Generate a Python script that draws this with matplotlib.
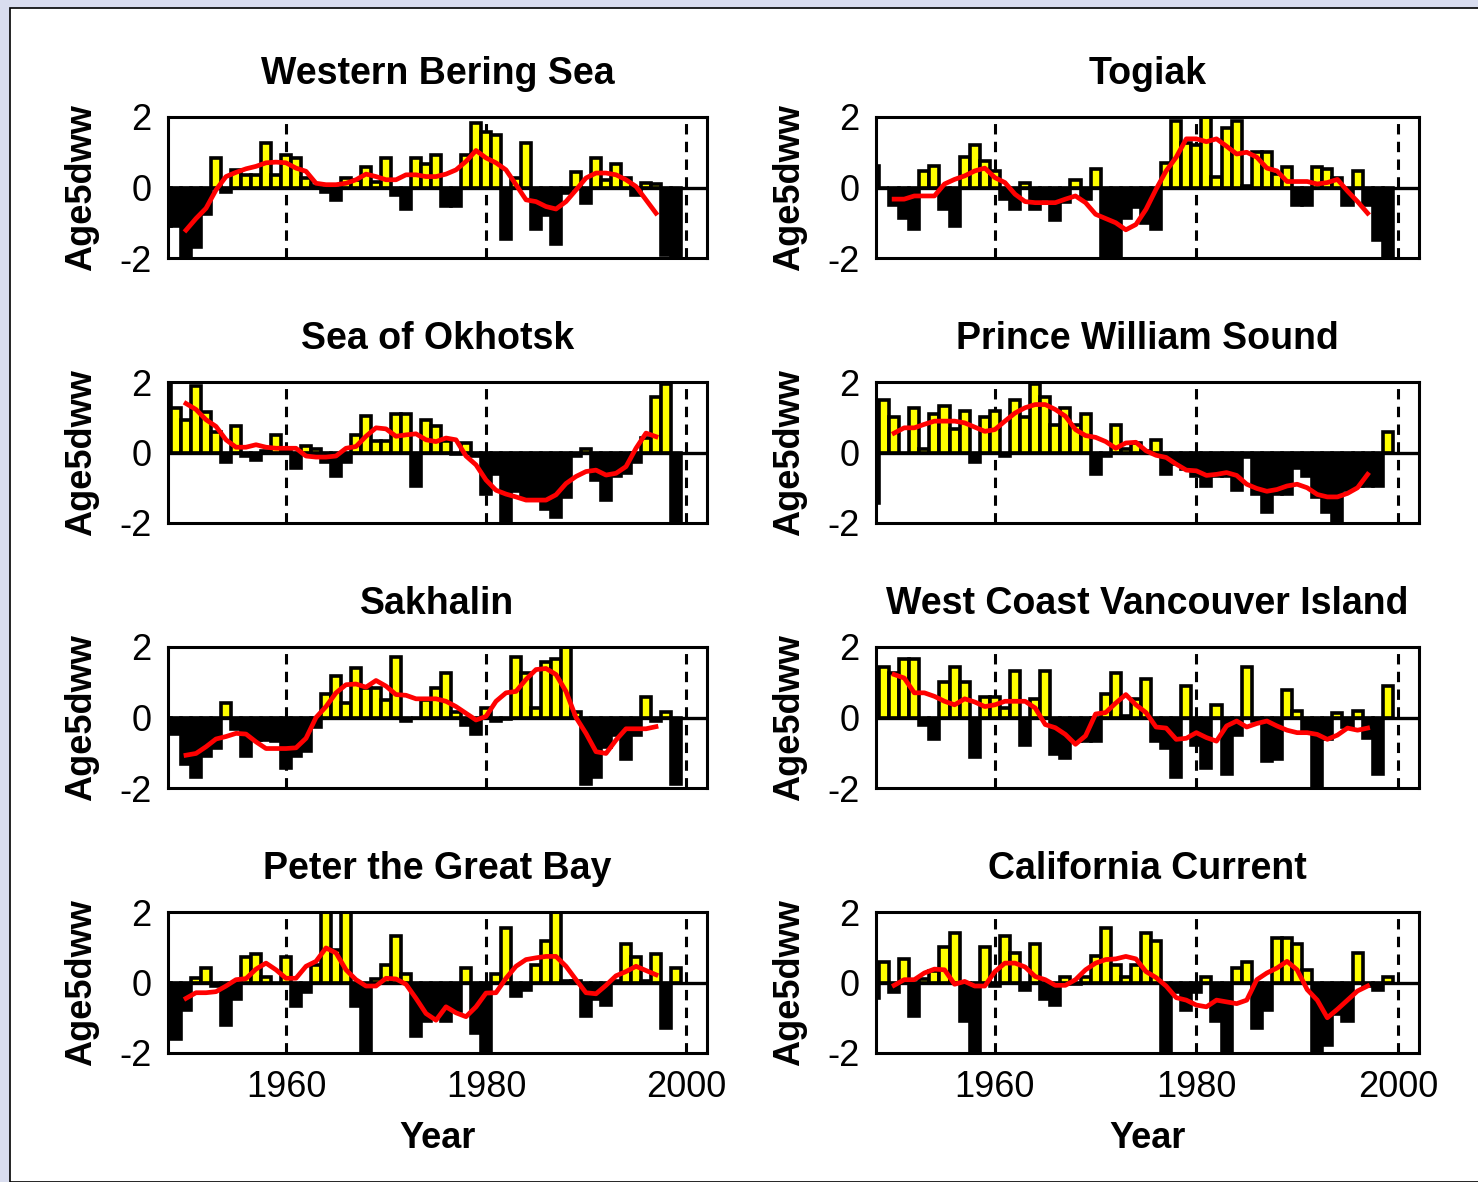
import matplotlib.pyplot as plt
import matplotlib.patches as mpatches
import numpy as np

years = np.arange(1948, 2000)
trend_years = np.arange(1950, 1998)

regions = ['Western Bering Sea', 'Togiak', 'Sea of Okhotsk', 'Prince William Sound',
           'Sakhalin', 'West Coast Vancouver Island', 'Peter the Great Bay', 'California Current']

# annual anomalies 1948-1999
western_bering = [-1.1, -1.1, -2.0, -1.7, -0.75, 0.84, -0.12, 0.5, 0.36, 0.36,
                  1.25, 0.36, 0.93, 0.84, 0.27, 0.05, -0.13, -0.35, 0.27, 0.2,
                  0.58, 0.15, 0.84, -0.2, -0.62, 0.84, 0.68, 0.92, -0.52, -0.52,
                  0.92, 1.84, 1.57, 1.5, -1.45, 0.27, 1.25, -1.18, -0.78, -1.6,
                  -0.16, 0.44, -0.45, 0.84, 0.22, 0.68, 0.27, -0.2, 0.12, 0.1,
                  -1.92, -2.0]
togiak = [0.6, 0.0, -0.5, -0.86, -1.18, 0.46, 0.6, -0.6, -1.08, 0.86,
          1.2, 0.76, 0.46, -0.33, -0.6, 0.12, -0.6, -0.33, -0.92, -0.4,
          0.2, -0.33, 0.52, -2.0, -2.0, -0.86, -0.54, -1.0, -1.18, 0.7,
          1.9, 1.27, 1.2, 2.0, 0.3, 1.7, 1.9, 0.05, 1.0, 1.0,
          0.38, 0.58, -0.5, -0.5, 0.58, 0.52, 0.28, -0.5, 0.46, -0.5,
          -1.5, -2.0]
okhotsk = [2.0, 1.25, 0.93, 1.9, 1.15, 0.58, -0.28, 0.76, -0.1, -0.2,
           0.05, 0.5, 0.05, -0.43, 0.18, 0.1, -0.26, -0.68, -0.26, 0.5,
           1.03, 0.33, 0.33, 1.08, 1.08, -0.95, 0.93, 0.76, 0.33, -0.05,
           0.27, -0.1, -1.18, -0.6, -2.0, -1.1, -1.25, -1.3, -1.6, -1.83,
           -1.25, -0.1, 0.1, -0.78, -1.35, -0.68, -0.58, -0.27, 0.41, 1.57,
           1.95, -2.0]
prince_william = [-1.43, 1.5, 1.0, 0.0, 1.25, 0.1, 1.08, 1.33, 0.68, 1.17,
                  -0.27, 1.0, 1.17, -0.1, 1.5, 1.0, 1.95, 1.57, 0.78, 1.25,
                  0.78, 1.08, -0.6, -0.1, 0.78, 0.1, 0.28, 0.05, 0.35, -0.6,
                  -0.33, -0.48, -0.68, -0.95, -0.68, -0.68, -1.05, -0.12, -1.18, -1.7,
                  -1.18, -1.18, -0.43, -0.68, -1.25, -1.7, -2.0, -1.07, -0.95, -0.95,
                  -0.95, 0.58]
sakhalin = [-0.4, -0.47, -1.33, -1.68, -1.1, -0.87, 0.4, -0.33, -1.1, -0.63,
            -0.63, -0.68, -1.43, -1.1, -0.95, -0.27, 0.68, 1.17, 0.4, 1.4,
            0.84, 0.84, 0.5, 1.72, -0.1, 0.0, 0.5, 0.84, 1.25, 0.17,
            -0.2, -0.47, 0.27, -0.1, -0.05, 1.72, 1.25, 0.27, 1.57, 1.65,
            2.0, 0.17, -1.88, -1.68, -0.85, -0.5, -1.18, -0.5, 0.58, -0.1,
            0.17, -1.88]
vancouver = [0.24, 1.43, 1.25, 1.65, 1.65, -0.2, -0.6, 1.0, 1.43, 1.0,
             -1.13, 0.58, 0.58, 0.26, 1.33, -0.77, 0.52, 1.33, -1.03, -1.16,
             -0.67, -0.67, -0.67, 0.68, 1.25, 0.05, 0.52, 1.08, -0.67, -0.86,
             -1.68, 0.9, -0.77, -1.43, 0.35, -1.6, -0.5, 1.43, -0.1, -1.24,
             -1.17, 0.78, 0.18, -0.4, -2.0, -0.6, 0.12, -0.28, 0.18, -0.57,
             -1.6, 0.9]
peter_great = [-0.87, -1.6, -0.77, 0.12, 0.4, -0.1, -1.2, -0.47, 0.72, 0.82,
               0.15, 0.0, 0.72, -0.67, -0.27, 0.5, 2.0, 0.93, 2.0, -0.67,
               -2.0, 0.1, 0.5, 1.33, 0.25, -1.52, -1.1, -0.95, -1.1, -0.8,
               0.4, -1.43, -2.0, 0.25, 1.55, -0.37, -0.2, 0.5, 1.17, 2.0,
               0.05, 0.05, -0.95, -0.48, -0.63, 0.05, 1.08, 0.72, 0.05, 0.82,
               -1.3, 0.4]
california = [-0.45, 0.58, -0.27, 0.68, -0.95, 0.1, 0.33, 1.0, 1.4, -1.1,
              -2.0, 1.0, -0.1, 1.33, 0.83, -0.2, 1.08, -0.47, -0.63, 0.15,
              -0.05, 0.15, 0.75, 1.55, 0.5, 0.15, 0.5, 1.4, 1.17, -2.0,
              -0.27, -0.77, -0.27, 0.15, -1.1, -2.0, 0.4, 0.58, -1.3, -0.77,
              1.25, 1.25, 1.08, 0.35, -2.0, -1.78, -0.9, -1.1, 0.83, -0.1,
              -0.2, 0.15]

# smoothed trend 1950-1997
western_bering_trend = [-1.21, -0.88, -0.59, -0.07, 0.31, 0.43, 0.53, 0.6, 0.7, 0.72,
                        0.7, 0.55, 0.46, 0.12, 0.08, 0.08, 0.12, 0.22, 0.38, 0.31,
                        0.22, 0.22, 0.36, 0.36, 0.31, 0.31, 0.38, 0.5, 0.74, 1.05,
                        0.84, 0.7, 0.5, 0.08, -0.35, -0.4, -0.54, -0.61, -0.4, -0.07,
                        0.27, 0.41, 0.41, 0.36, 0.22, 0.03, -0.35, -0.73]
togiak_trend = [-0.33, -0.33, -0.24, -0.24, -0.24, 0.1, 0.23, 0.33, 0.47, 0.55,
                0.28, 0.14, -0.19, -0.4, -0.43, -0.43, -0.43, -0.33, -0.24, -0.43,
                -0.76, -0.88, -1.0, -1.2, -1.05, -0.62, -0.05, 0.47, 0.86, 1.38,
                1.38, 1.3, 1.38, 1.17, 0.95, 1.0, 0.86, 0.55, 0.47, 0.17,
                0.17, 0.17, 0.1, 0.14, 0.23, -0.1, -0.4, -0.73]
okhotsk_trend = [1.39, 1.22, 0.93, 0.74, 0.36, 0.15, 0.15, 0.22, 0.15, 0.12,
                 0.12, 0.12, -0.1, -0.13, -0.13, -0.1, 0.12, 0.17, 0.46, 0.7,
                 0.67, 0.46, 0.5, 0.53, 0.36, 0.31, 0.41, 0.36, -0.1, -0.35,
                 -0.78, -1.07, -1.18, -1.26, -1.35, -1.35, -1.35, -1.2, -0.88, -0.68,
                 -0.54, -0.5, -0.64, -0.59, -0.4, 0.12, 0.55, 0.45]
prince_william_trend = [0.55, 0.7, 0.7, 0.8, 0.89, 0.89, 0.89, 0.84, 0.72, 0.6,
                        0.65, 0.89, 1.12, 1.27, 1.36, 1.36, 1.22, 1.03, 0.65, 0.48,
                        0.43, 0.31, 0.12, 0.27, 0.29, 0.05, -0.08, -0.14, -0.33, -0.5,
                        -0.52, -0.65, -0.62, -0.57, -0.65, -0.9, -1.02, -1.1, -1.05, -0.95,
                        -0.9, -1.0, -1.19, -1.26, -1.26, -1.16, -1.0, -0.62]
sakhalin_trend = [-1.07, -1.02, -0.83, -0.61, -0.54, -0.45, -0.47, -0.69, -0.88, -0.88,
                  -0.88, -0.86, -0.59, 0.0, 0.31, 0.7, 0.93, 0.95, 0.86, 1.05,
                  0.89, 0.65, 0.63, 0.53, 0.53, 0.53, 0.46, 0.31, 0.12, -0.07,
                  0.03, 0.46, 0.7, 0.74, 1.08, 1.36, 1.39, 1.22, 0.74, 0.0,
                  -0.45, -0.97, -1.02, -0.64, -0.32, -0.32, -0.32, -0.26]
vancouver_trend = [1.22, 1.12, 0.7, 0.7, 0.6, 0.46, 0.36, 0.53, 0.44, 0.31,
                   0.36, 0.46, 0.46, 0.46, 0.27, -0.2, -0.29, -0.48, -0.76, -0.52,
                   0.1, 0.14, 0.41, 0.65, 0.36, 0.14, -0.27, -0.3, -0.62, -0.59,
                   -0.43, -0.57, -0.67, -0.24, -0.1, -0.27, -0.17, -0.1, -0.24, -0.36,
                   -0.43, -0.43, -0.48, -0.62, -0.5, -0.3, -0.36, -0.3]
peter_great_trend = [-0.45, -0.29, -0.29, -0.26, -0.1, 0.08, 0.11, 0.38, 0.55, 0.36,
                     0.12, 0.12, 0.46, 0.6, 0.98, 0.84, 0.36, 0.08, -0.1, -0.1,
                     0.12, 0.1, -0.05, -0.45, -0.88, -1.07, -0.69, -0.86, -0.97, -0.69,
                     -0.3, -0.29, 0.12, 0.46, 0.65, 0.7, 0.74, 0.74, 0.46, 0.08,
                     -0.29, -0.32, -0.08, 0.19, 0.31, 0.46, 0.34, 0.22]
california_trend = [-0.08, 0.08, 0.08, 0.27, 0.38, 0.36, -0.05, 0.03, -0.1, -0.1,
                    0.31, 0.55, 0.55, 0.44, 0.17, 0.08, -0.08, -0.08, 0.08, 0.36,
                    0.55, 0.65, 0.67, 0.74, 0.67, 0.31, 0.14, -0.1, -0.43, -0.5,
                    -0.64, -0.69, -0.5, -0.55, -0.6, -0.5, 0.08, 0.27, 0.41, 0.6,
                    0.36, -0.2, -0.5, -1.0, -0.76, -0.5, -0.24, -0.1]

anomalies = [western_bering, togiak, okhotsk, prince_william,
             sakhalin, vancouver, peter_great, california]
trends = [western_bering_trend, togiak_trend, okhotsk_trend, prince_william_trend,
          sakhalin_trend, vancouver_trend, peter_great_trend, california_trend]

W, H = 1478, 1182
fig = plt.figure(figsize=(W / 100, H / 100), dpi=100)
fig.patch.set_facecolor('#d9ddef')
# white sheet behind the panels
sheet = mpatches.Rectangle((10 / W, 0), 1.0, 1 - 8 / H, transform=fig.transFigure,
                           facecolor='white', edgecolor='black', linewidth=1.2, zorder=-10)
fig.add_artist(sheet)

col_x = [(168, 707), (876, 1419)]
row_top = [117, 382, 647, 912]
ph = 141

for i, name in enumerate(regions):
    r, c = divmod(i, 2)
    x0, x1 = col_x[c]
    ax = fig.add_axes([x0 / W, 1 - (row_top[r] + ph) / H, (x1 - x0) / W, ph / H])
    vals = np.array(anomalies[i])
    cols = ['#ffff00' if v > 0 else 'black' for v in vals]
    ax.bar(years, vals, width=1.0, color=cols, edgecolor='black', linewidth=2.6, zorder=2)
    ax.axhline(0, color='black', linewidth=2.4, zorder=3)
    for yr in (1960, 1980, 2000):
        ax.axvline(yr, color='black', linewidth=2.2, dashes=(3.4, 2.4), zorder=1)
    ax.plot(trend_years, trends[i], color='#ff0000', linewidth=3.4, zorder=4)

    ax.set_xlim(1948.2, 2002.1)
    ax.set_ylim(-2, 2)
    ax.set_yticks([-2, 0, 2])
    ax.set_yticklabels(['-2', '0', '2'], fontsize=26, family='Liberation Sans')
    ax.set_xticks([1960, 1980, 2000])
    if r == 3:
        ax.set_xticklabels(['1960', '1980', '2000'], fontsize=26, family='Liberation Sans')
        ax.set_xlabel('Year', fontsize=26, fontweight='bold', family='Liberation Sans', labelpad=12)
    else:
        ax.set_xticklabels([])
    ax.tick_params(length=0, pad=12)
    ax.set_ylabel('Age5dww', fontsize=26, fontweight='bold', family='Liberation Sans', labelpad=14)
    ax.set_title(name, fontsize=27, fontweight='bold', family='Liberation Sans', pad=24)
    for s in ax.spines.values():
        s.set_linewidth(2.2)

plt.savefig('out.png', dpi=100, facecolor=fig.get_facecolor())
